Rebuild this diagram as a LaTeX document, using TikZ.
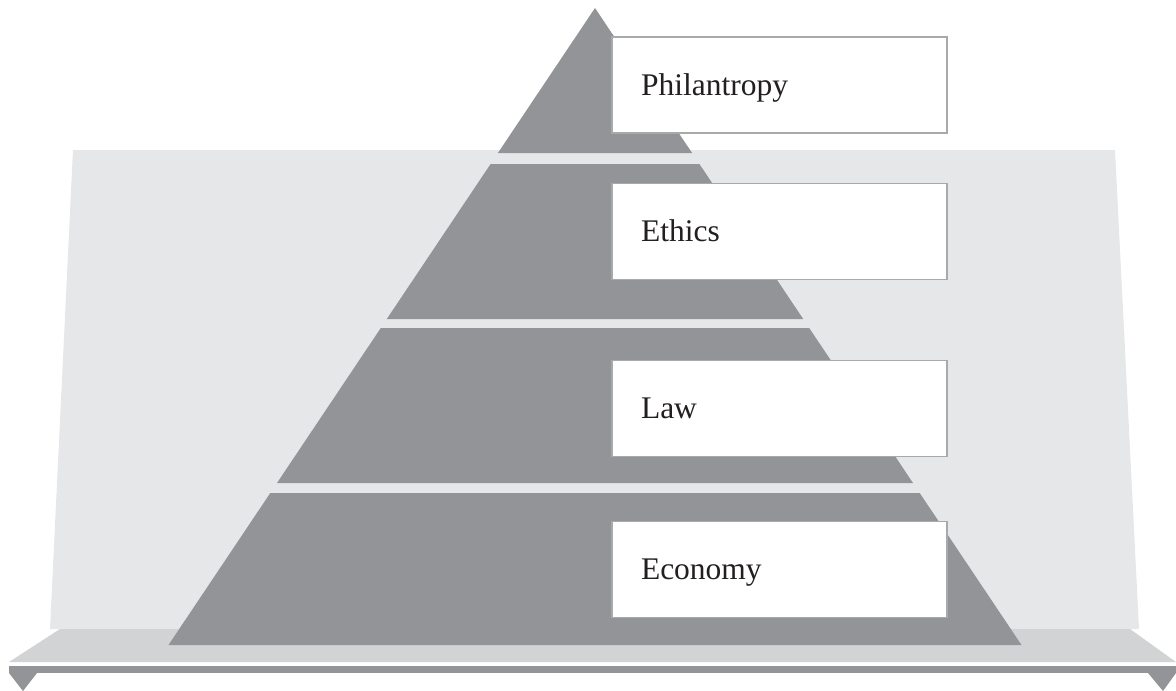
\documentclass[tikz,border=0pt]{standalone}
\usepackage{fontspec}
\setmainfont{Liberation Serif}
\definecolor{tiergray}{HTML}{929497}
\definecolor{panelgray}{HTML}{E6E7E8}
\definecolor{platgray}{HTML}{D1D3D4}
\definecolor{boxline}{HTML}{A7A9AC}
\definecolor{labeltext}{HTML}{231F20}
\tikzset{
  tier/.style={fill=tiergray, draw=none},
  labelbox/.style={draw=boxline, line width=1.5pt, fill=white,
    minimum width=335pt, minimum height=96pt, text width=277pt,
    inner xsep=29pt, inner ysep=0pt, align=left,
    text height=20pt, text depth=0pt,
    font=\fontsize{31.5}{36}\selectfont, text=labeltext}
}
\begin{document}
\begin{tikzpicture}[x=1pt, y=-1pt]
\useasboundingbox (0,0) rectangle (1176,691);

% back panel
\fill[panelgray] (73,150) -- (1115,150) -- (1139,629) -- (50,629) -- cycle;

% platform and base rail with its two feet
\fill[platgray] (60,629) -- (1130,629) -- (1176,662) -- (9,662) -- cycle;
\fill[tiergray] (9,666) rectangle (1176,673);
\fill[tiergray] (9,673) -- (37,673) -- (23,691) -- cycle;
\fill[tiergray] (1148,673) -- (1176,673) -- (1163,691) -- cycle;

% pyramid tiers
\fill[tier] (595,8) -- (692.1,153) -- (497.9,153) -- cycle;
\fill[tier] (490.6,164) -- (699.4,164) -- (803.2,319) -- (386.8,319) -- cycle;
\fill[tier] (380.8,328) -- (809.2,328) -- (913.0,483) -- (277.0,483) -- cycle;
\fill[tier] (270.3,493) -- (919.7,493) -- (1021.5,645) -- (168.5,645) -- cycle;

% tier labels
\node[labelbox] (phil) at (779.5,85) {Philantropy};
\node[labelbox] (ethics) at (779.5,231.5) {Ethics};
\node[labelbox] (law) at (779.5,408.5) {Law};
\node[labelbox] (econ) at (779.5,569.5) {Economy};
\end{tikzpicture}
\end{document}
